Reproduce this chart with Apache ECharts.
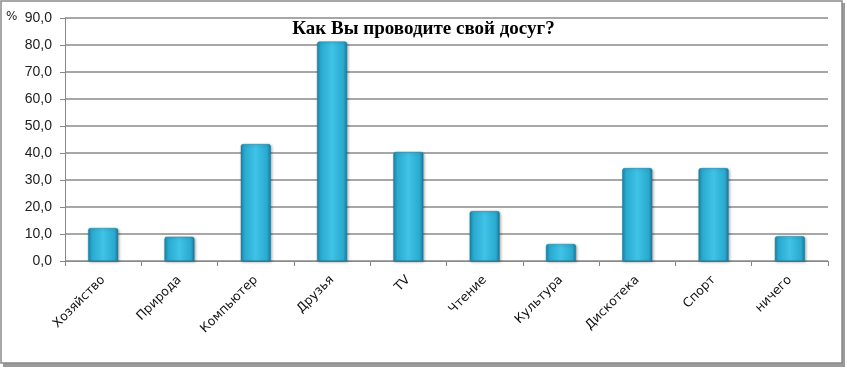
<!DOCTYPE html>
<html><head><meta charset="utf-8">
<script src="https://cdn.jsdelivr.net/npm/echarts@6/dist/echarts.min.js"></script>
<style>html,body{margin:0;padding:0;background:#fff}#c{width:847px;height:369px}</style>
</head><body><div id="c"></div>
<script>
const categories = ['Хозяйство','Природа','Компьютер','Друзья','TV','Чтение','Культура','Дискотека','Спорт','ничего'];
const values = [12.2, 9.0, 43.3, 81.3, 40.4, 18.5, 6.3, 34.4, 34.4, 9.2];
const yTicks = [0,10,20,30,40,50,60,70,80,90];
const titleText = 'Как Вы проводите свой досуг?';
const unitText = '%';

const chart = echarts.init(document.getElementById('c'), null, {renderer:'canvas'});
chart.setOption({
  animation:false,
  backgroundColor:'#fff',
  graphic:[
    {type:'rect', shape:{x:3,y:3,width:842,height:364}, style:{fill:'#9a9a9a'}, z:-10},
    {type:'rect', shape:{x:1,y:1,width:841,height:362}, style:{fill:'#fff', stroke:'#8a8a8a', lineWidth:1.5}, z:-9},
    {type:'text', left:6, top:11, style:{text:unitText, font:'12px "DejaVu Sans"', fill:'#222'}}
  ],
  title:{text:titleText, left:'center', top:15,
    textStyle:{fontFamily:'"Liberation Serif"', fontWeight:'bold', fontSize:19, color:'#000'}},
  grid:{left:65, right:19, top:18, bottom:108, containLabel:false},
  xAxis:{type:'category', data:categories,
    axisLine:{lineStyle:{color:'#888', width:1}},
    axisTick:{show:true, length:5, lineStyle:{color:'#888'}, alignWithLabel:false},
    axisLabel:{rotate:45, interval:0, margin:17, fontFamily:'"DejaVu Sans"', fontSize:12.5, color:'#111'}},
  yAxis:{type:'value', min:0, max:90, interval:10,
    axisLine:{show:true, lineStyle:{color:'#888'}},
    axisTick:{show:true, length:5, lineStyle:{color:'#888'}},
    splitLine:{lineStyle:{color:'#8a8a8a', width:1.5}},
    axisLabel:{fontFamily:'"Liberation Sans"', fontSize:14, color:'#222', margin:13,
      formatter:v=>v.toFixed(1).replace('.',',')}},
  series:[{type:'bar', data:values, barWidth:30,
    itemStyle:{color:new echarts.graphic.LinearGradient(0,0,1,0,[
      {offset:0,color:'#1b87a8'},{offset:0.12,color:'#2aa9cf'},{offset:0.5,color:'#3fc3e6'},
      {offset:0.88,color:'#2aa9cf'},{offset:1,color:'#18799a'}]),
      borderColor:'#1a7fa0', borderWidth:0.5, borderRadius:[2,2,0,0],
      shadowColor:'rgba(0,0,0,0.35)', shadowBlur:3, shadowOffsetX:1, shadowOffsetY:1}}]
});
</script></body></html>
